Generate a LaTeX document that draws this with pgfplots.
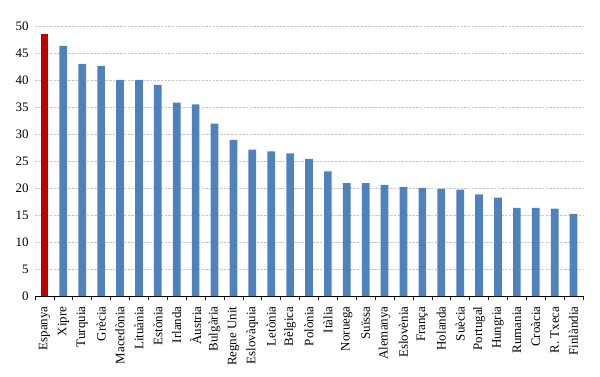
\documentclass[border=0pt]{standalone}
\usepackage{fontspec}
\setmainfont{Liberation Serif}
\usepackage{pgfplots}
\pgfplotsset{compat=1.18}
\definecolor{barblue}{HTML}{4F81BD}
\definecolor{barred}{HTML}{C00000}
\definecolor{gridgray}{HTML}{C8C8C8}
\begin{document}
\begin{tikzpicture}
\useasboundingbox (-35bp,-81bp) rectangle (565bp,296bp);
\begin{axis}[
  scale only axis,
  width=548bp, height=270bp,
  xmin=-0.5, xmax=28.5,
  ymin=0, ymax=50,
  ytick={0,5,...,50},
  xtick={0,...,28},
  xticklabels={Espanya,Xipre,Turquia,Grècia,Macedònia,Lituània,Estònia,Irlanda,Àustria,Bulgària,Regne Unit,Eslovàquia,Letònia,Bèlgica,Polònia,Itàlia,Noruega,Suïssa,Alemanya,Eslovènia,França,Holanda,Suècia,Portugal,Hungria,Rumania,Croàcia,R. Txeca,Finlàndia},
  x tick label style={rotate=90, anchor=east, font=\fontsize{13}{13}\selectfont, xshift=-7bp},
  y tick label style={font=\fontsize{13}{13}\selectfont, xshift=-3bp},
  /pgf/number format/assume math mode=true,
  axis x line*=bottom,
  axis y line*=left,
  y axis line style={draw=none},
  ymajorgrids,
  major grid style={gridgray, dash pattern=on 2.5bp off 1.2bp, line width=0.8pt},
  minor xtick={-0.5,0.5,...,28.5},
  major tick length=0pt,
  minor x tick style={black, line width=0.6pt},
  minor tick length=4bp,
  tick align=outside,
  x axis line style={black, line width=0.8pt},
  ybar, bar width=7.7bp, bar shift=0pt,
  clip=false,
]
\addplot[fill=barred, draw=none] coordinates {(0,48.6)};
\addplot[fill=barblue, draw=none] coordinates {
(1,46.3) (2,43.0) (3,42.6) (4,40.0) (5,40.0) (6,39.1) (7,35.8) (8,35.5)
(9,31.9) (10,28.9) (11,27.1) (12,26.8) (13,26.4) (14,25.4) (15,23.1)
(16,20.9) (17,20.9) (18,20.6) (19,20.2) (20,20.0) (21,19.85) (22,19.7)
(23,18.8) (24,18.2) (25,16.3) (26,16.3) (27,16.2) (28,15.2)
};
\end{axis}
\end{tikzpicture}
\end{document}
